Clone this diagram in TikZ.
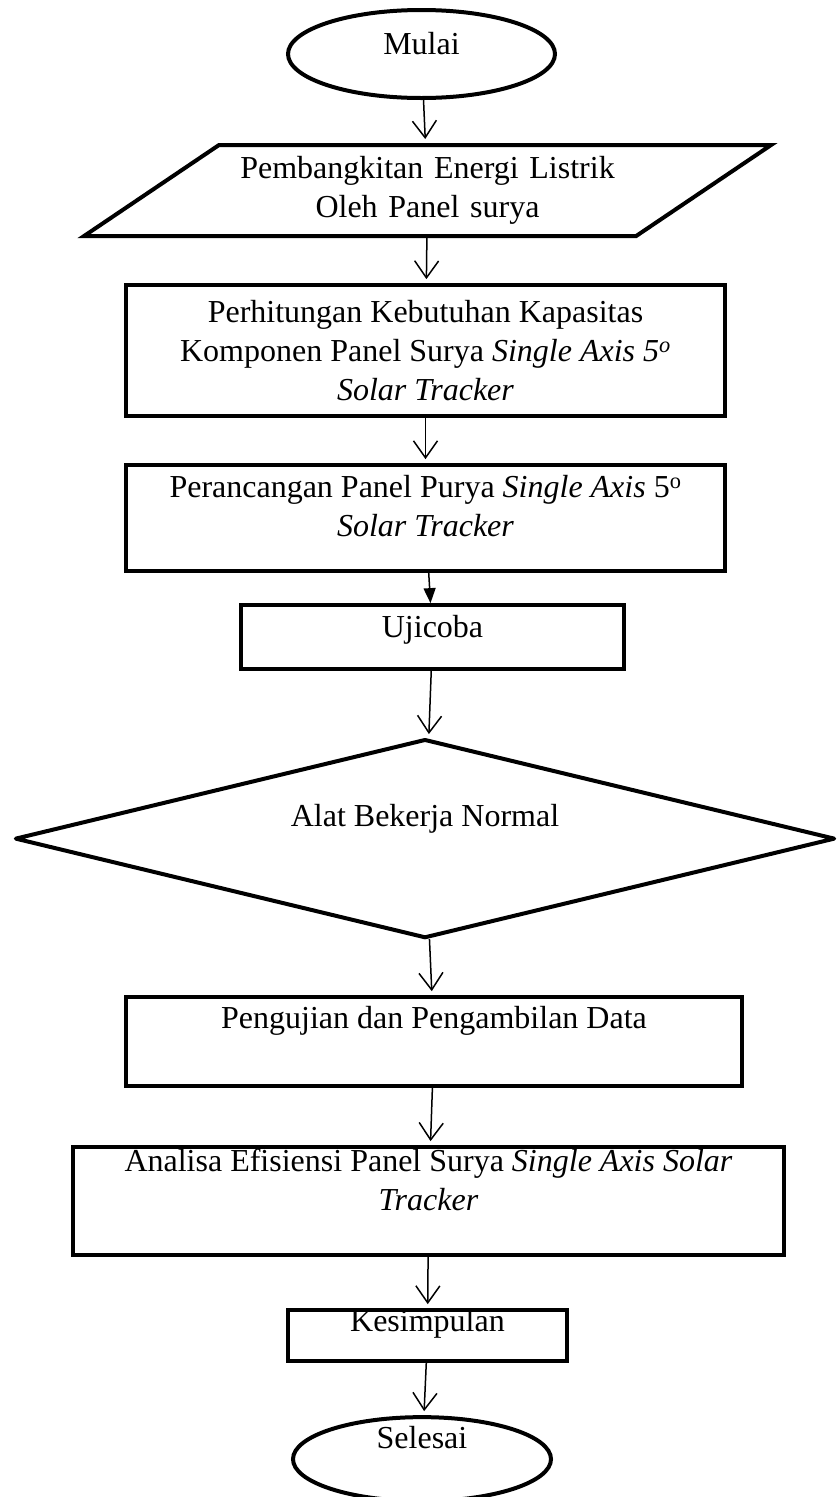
\documentclass[tikz,border=0pt]{standalone}
\usepackage{fontspec}
\setmainfont{Liberation Serif}
\usetikzlibrary{arrows.meta,positioning,shapes.geometric}
\tikzset{main base/.style={draw,line width=4pt,align=center,inner sep=2pt}, }
\tikzset{lift/.style={text height=0pt,text depth=#1}, }
\tikzset{linea/.style={-{Straight Barb[length=17pt,width=24pt]},line width=1.5pt,shorten >=4pt,draw}}
\tikzset{linea2/.style={-{Triangle[length=15pt,width=12pt]},line width=1.5pt,draw}}
\tikzset{
	start-end/.style={
		ellipse,main base
	},
	input/.style={ % requires library shapes.geometric
		trapezium,
		trapezium left angle=34,
		trapezium right angle=146,main base
	},
	operation/.style={
		rectangle,main base
	},
	decision/.style={ % requires library shapes.geometric
		diamond,
		aspect=#1,main base,line join=round
	},
	decision/.default=4,
}

\begin{document}
\begin{tikzpicture}[font=\fontsize{32}{39}\selectfont]
\useasboundingbox (0pt,0pt) rectangle (837pt,-1497pt);
\node[start-end,lift=0pt,minimum width=267pt,minimum height=88pt] (1) at (421.5pt,-54pt) {Mulai};
\node[input,text width=395pt,inner xsep=11pt,inner ysep=11.5pt] (2) [below=43pt of 1,xshift=6pt] {Pembangkitan Energi Listrik\\ Oleh Panel surya};
\node[operation,minimum width=599pt,minimum height=131pt] (3) [below=45pt of 2,xshift=-2pt] {Perhitungan Kebutuhan Kapasitas\\ Komponen Panel Surya \textit{Single Axis 5\textsuperscript{o}}\\ \textit{Solar Tracker}};
\node[operation,minimum width=599pt,minimum height=106pt] (4) [below=45pt of 3] {Perancangan Panel Purya \textit{Single Axis} 5\textsuperscript{o}\\ \textit{Solar Tracker}\\[-15pt]\mbox{}};
\node[operation,lift=0pt,minimum width=383pt,minimum height=64pt] (5) [below=30pt of 4,xshift=7pt] {Ujicoba};
\node[decision,lift=25pt,minimum width=820pt,minimum height=199pt] (6) [below=66pt of 5,xshift=-7.5pt] {Alat Bekerja Normal};
\node[operation,lift=27pt,minimum width=616pt,minimum height=89pt] (7) [below=55pt of 6,xshift=9pt] {Pengujian dan Pengambilan Data};
\node[operation,minimum width=711pt,minimum height=108pt] (8) [below=57pt of 7,xshift=-5.5pt] {Analisa Efisiensi Panel Surya \textit{Single Axis Solar}\\ \textit{Tracker}\\[3pt]\mbox{}};
\node[operation,lift=9pt,minimum width=279pt,minimum height=51pt] (9) [below=51pt of 8,xshift=-1pt] {Kesimpulan};
\node[start-end,lift=21pt,minimum width=258pt,minimum height=84pt] (10) [below=52pt of 9,xshift=-5.5pt] {Selesai};

\foreach \x/\y in {1/2,2/3,3/4,5/6,6/7,7/8,8/9,9/10}
  \path[linea] (\x) edge (\y);
\path[linea2] (4) edge (5);
\end{tikzpicture}
\end{document}
